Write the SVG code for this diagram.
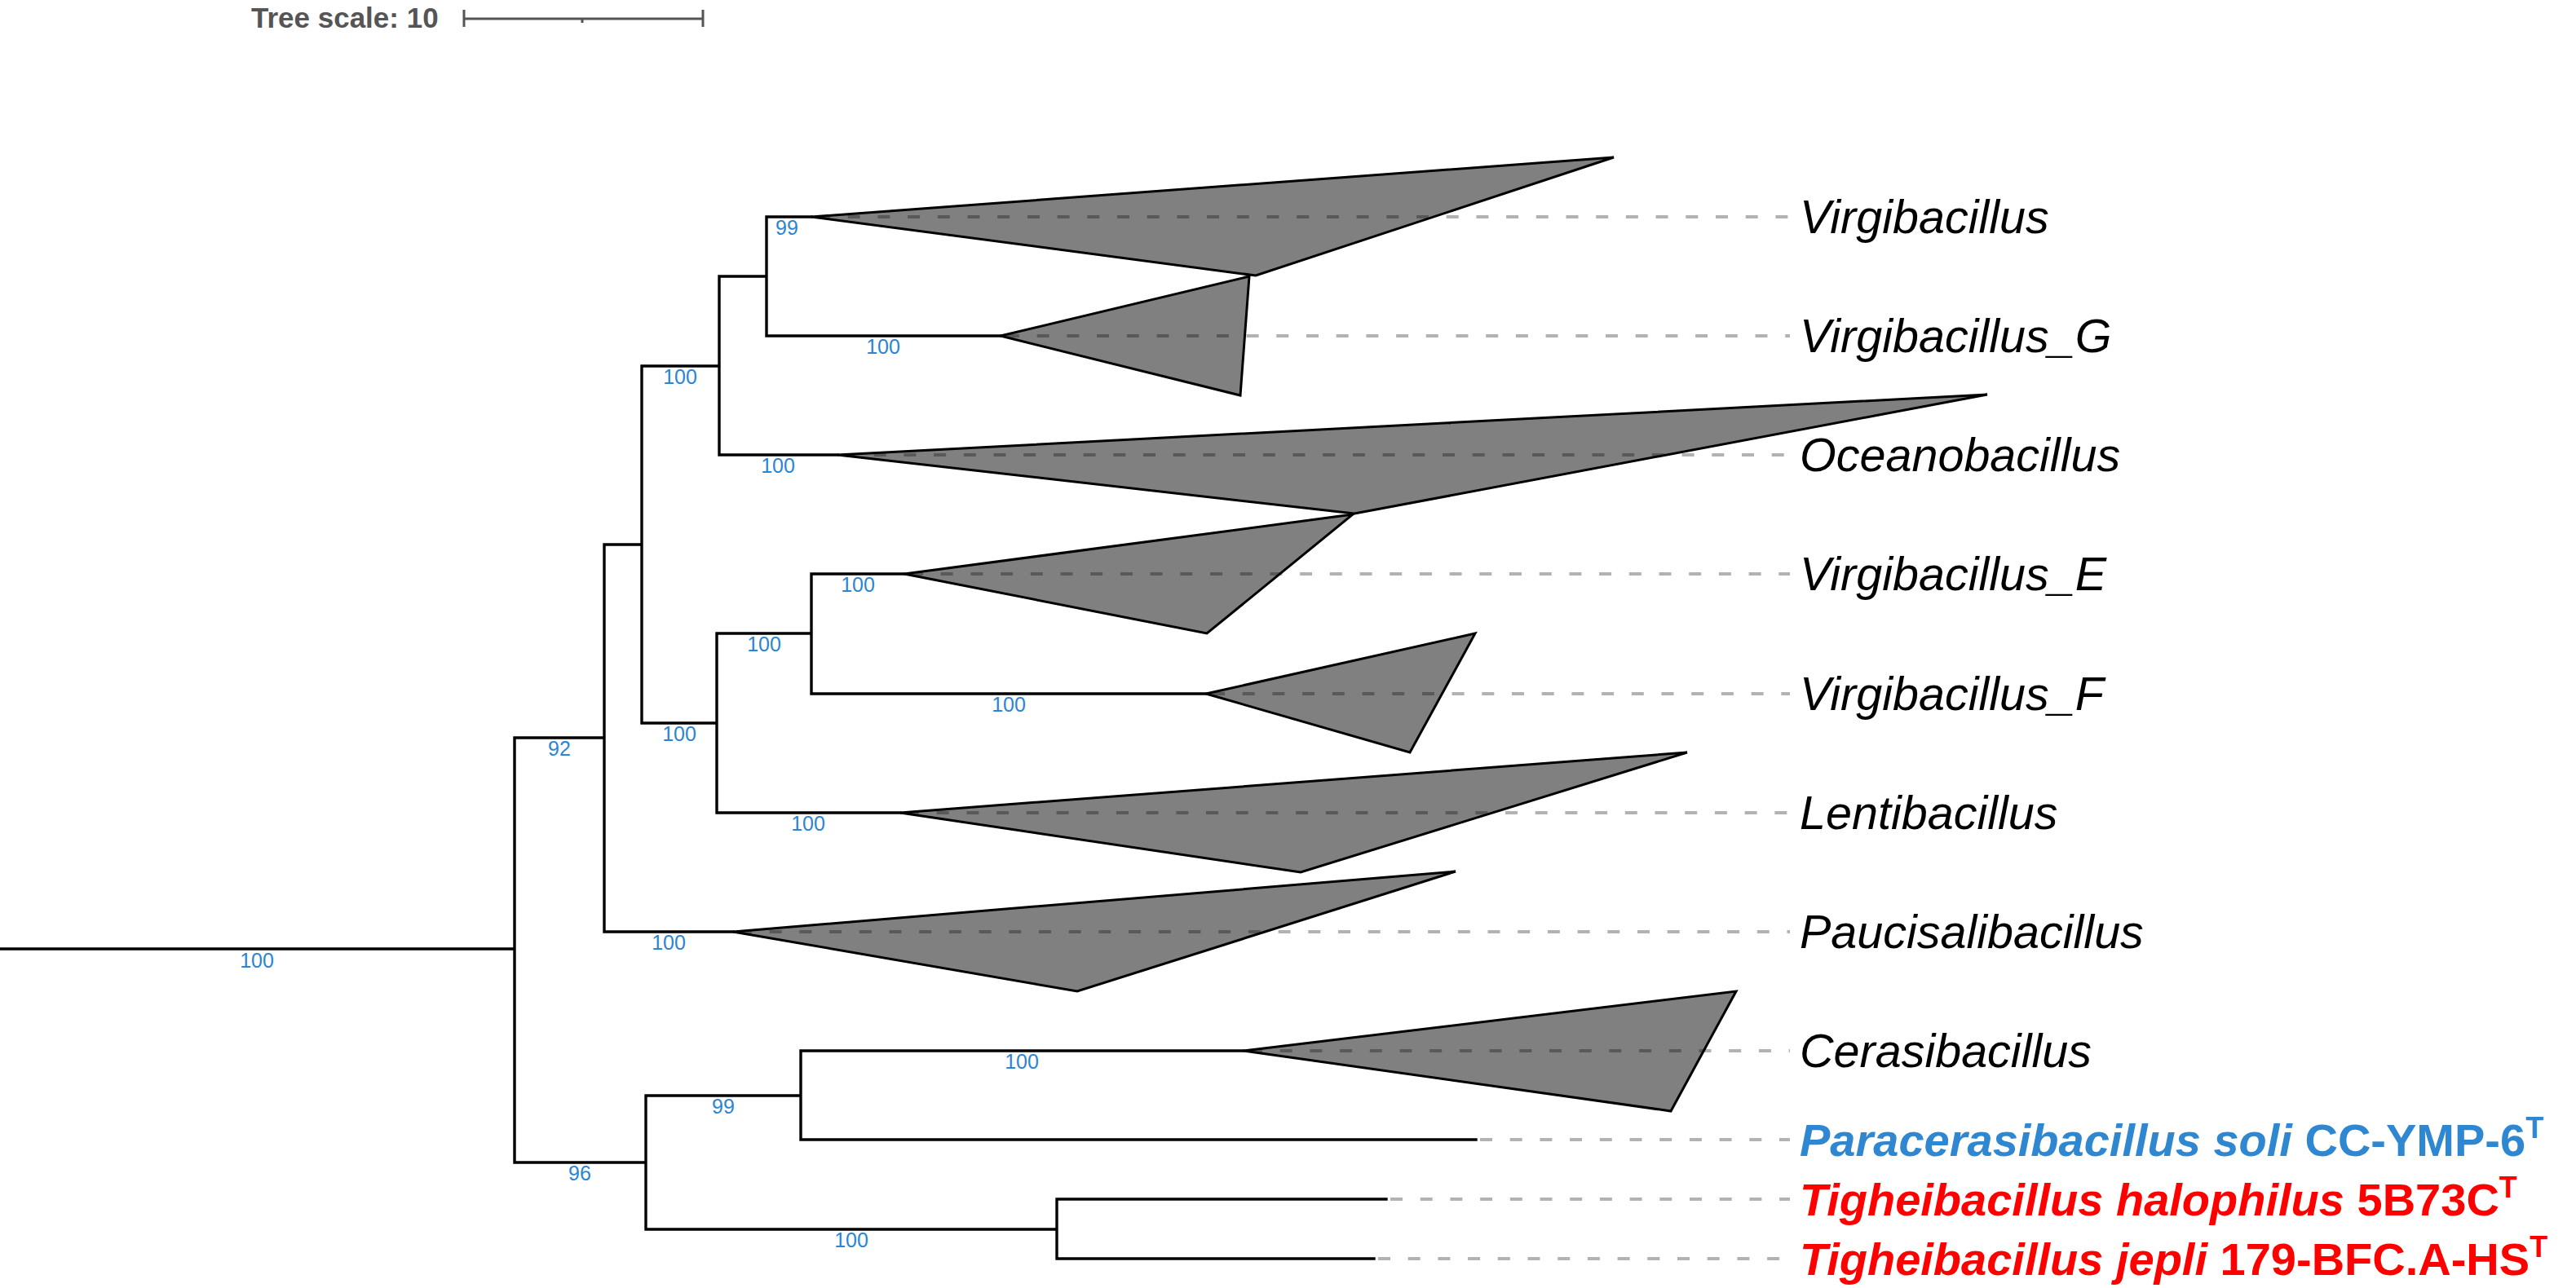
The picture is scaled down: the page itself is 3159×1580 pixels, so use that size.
<svg xmlns="http://www.w3.org/2000/svg" width="3159" height="1580" viewBox="0 0 3159 1580">
<style>
.br{fill:none;stroke:#000;stroke-width:3.4;stroke-linecap:square}
.tri{fill:#808080;stroke:#000;stroke-width:3;stroke-linejoin:miter}
.dash{stroke:#000;stroke-opacity:0.3;stroke-width:4;stroke-dasharray:15 21.7}
.bs{font-family:"Liberation Sans",Arial,sans-serif;font-size:25px;fill:#2b85d2;text-anchor:middle}
.lab{font-family:"Liberation Sans",Arial,sans-serif;font-size:57.5px;font-style:italic;fill:#000}
.blab{font-family:"Liberation Sans",Arial,sans-serif;font-size:56px;font-weight:bold}
.sup{font-size:36px;font-style:normal}
.scale{font-family:"Liberation Sans",Arial,sans-serif;font-size:35px;font-weight:bold;fill:#555}
</style>
<rect width="3159" height="1580" fill="#fff"/>
<g id="tree-scale">
<text class="scale" x="308" y="34">Tree scale: 10</text>
<path d="M569 23H862M569 12V33M862 12V33M714 23V28" fill="none" stroke="#555" stroke-width="3"/>
</g>
<g id="connectors">
<path class="br" d="M0 1164H631M631 905V1426M631 905H741M741 668V1143M741 668H787M787 449V887M787 449H882M882 339V558M882 339H940M940 266V412M940 266H995M940 412H1227M882 558H1027M787 887H879M879 777V997M879 777H995M995 704V851M995 704H1109M995 851H1479M879 997H1104M741 1143H899M631 1426H792M792 1344V1508M792 1344H982M982 1289V1398M982 1289H1525M982 1398H1810M792 1508H1296M1296 1471V1544M1296 1471H1700M1296 1544H1685"/>
</g>
<g id="bootstrap">
<text class="bs" x="315" y="1187">100</text>
<text class="bs" x="686" y="927">92</text>
<text class="bs" x="834" y="471">100</text>
<text class="bs" x="965" y="288">99</text>
<text class="bs" x="1083" y="434">100</text>
<text class="bs" x="954" y="580">100</text>
<text class="bs" x="833" y="909">100</text>
<text class="bs" x="937" y="799">100</text>
<text class="bs" x="1052" y="726">100</text>
<text class="bs" x="1237" y="873">100</text>
<text class="bs" x="991" y="1019">100</text>
<text class="bs" x="820" y="1165">100</text>
<text class="bs" x="711" y="1448">96</text>
<text class="bs" x="887" y="1366">99</text>
<text class="bs" x="1253" y="1311">100</text>
<text class="bs" x="1044" y="1530">100</text>
</g>
<g id="virgibacillus">
<polygon class="tri" points="995,266 1979,193 1540,338"/>
<line class="dash" x1="1003" y1="266" x2="2195" y2="266"/>
<text class="lab" x="2207" y="286">Virgibacillus</text>
</g>
<g id="virgibacillus-g">
<polygon class="tri" points="1227,412 1532,339 1521,485"/>
<line class="dash" x1="1235" y1="412" x2="2195" y2="412"/>
<text class="lab" x="2207" y="432">Virgibacillus_G</text>
</g>
<g id="oceanobacillus">
<polygon class="tri" points="1027,558 2437,484 1661,630"/>
<line class="dash" x1="1035" y1="558" x2="2195" y2="558"/>
<text class="lab" x="2207" y="578">Oceanobacillus</text>
</g>
<g id="virgibacillus-e">
<polygon class="tri" points="1109,704 1659,631 1480,777"/>
<line class="dash" x1="1117" y1="704" x2="2195" y2="704"/>
<text class="lab" x="2207" y="724">Virgibacillus_E</text>
</g>
<g id="virgibacillus-f">
<polygon class="tri" points="1479,851 1809,777 1729,923"/>
<line class="dash" x1="1487" y1="851" x2="2195" y2="851"/>
<text class="lab" x="2207" y="871">Virgibacillus_F</text>
</g>
<g id="lentibacillus">
<polygon class="tri" points="1104,997 2069,923 1595,1070"/>
<line class="dash" x1="1112" y1="997" x2="2195" y2="997"/>
<text class="lab" x="2207" y="1017">Lentibacillus</text>
</g>
<g id="paucisalibacillus">
<polygon class="tri" points="899,1143 1785,1069 1321,1216"/>
<line class="dash" x1="907" y1="1143" x2="2195" y2="1143"/>
<text class="lab" x="2207" y="1163">Paucisalibacillus</text>
</g>
<g id="cerasibacillus">
<polygon class="tri" points="1525,1289 2129,1216 2049,1363"/>
<line class="dash" x1="1533" y1="1289" x2="2195" y2="1289"/>
<text class="lab" x="2207" y="1309">Cerasibacillus</text>
</g>
<g id="paracerasibacillus-soli">
<line class="dash" x1="1815" y1="1398" x2="2195" y2="1398"/>
<text class="blab" x="2207" y="1418" fill="#2e87d0"><tspan font-style="italic">Paracerasibacillus soli</tspan> CC-YMP-6<tspan class="sup" dy="-22">T</tspan></text>
</g>
<g id="tigheibacillus-halophilus">
<line class="dash" x1="1705" y1="1471" x2="2195" y2="1471"/>
<text class="blab" x="2207" y="1491" fill="#ff0000"><tspan font-style="italic">Tigheibacillus halophilus</tspan> 5B73C<tspan class="sup" dy="-22">T</tspan></text>
</g>
<g id="tigheibacillus-jepli">
<line class="dash" x1="1690" y1="1544" x2="2195" y2="1544"/>
<text class="blab" x="2207" y="1564" fill="#ff0000"><tspan font-style="italic">Tigheibacillus jepli</tspan> 179-BFC.A-HS<tspan class="sup" dy="-22">T</tspan></text>
</g>
</svg>
